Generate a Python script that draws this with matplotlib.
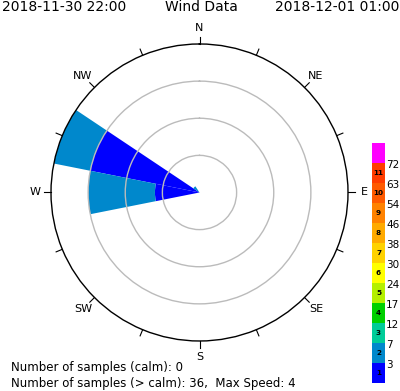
import numpy as np
import matplotlib
matplotlib.use("Agg")
import matplotlib.pyplot as plt

# 16 compass sectors, clockwise from north
directions = ['N', 'NNE', 'NE', 'ENE', 'E', 'ESE', 'SE', 'SSE',
              'S', 'SSW', 'SW', 'WSW', 'W', 'WNW', 'NW', 'NNW']
# sample counts per speed bin (bin 1 and bin 2 only have samples)
counts_bin1 = [0, 0, 0, 0, 0, 0, 0, 0, 0, 0, 0, 0, 6, 15, 0, 0]
counts_bin2 = [0, 0, 0, 0, 0, 0, 0, 0, 0, 0, 0, 0, 9, 5, 1, 0]

# speed scale legend
bin_numbers = ['1', '2', '3', '4', '5', '6', '7', '8', '9', '10', '11', '']
bin_limits = ['3', '7', '12', '17', '24', '30', '38', '46', '54', '63', '72']
bin_colors = ['#0000ff', '#0088cc', '#00cc99', '#00d000', '#b4f000', '#ffff00',
              '#ffd200', '#ffaa00', '#ff8200', '#ff5a00', '#ff3c00', '#ff00ff']

start_time = "2018-11-30 22:00"
end_time = "2018-12-01 01:00"
calm_samples = 0
max_speed = 4

fig = plt.figure(figsize=(4.0, 3.91), dpi=100)
ax = fig.add_axes([0.1275, 0.1279, 0.7425, 0.7596], projection='polar')
ax.set_theta_zero_location('N')
ax.set_theta_direction(-1)

theta = np.deg2rad(np.arange(16) * 22.5)
width = np.deg2rad(22.5)
b1 = np.array(counts_bin1)
b2 = np.array(counts_bin2)
rmax = (b1 + b2).max()

ax.bar(theta, b1, width=width, color=bin_colors[0], edgecolor='none', zorder=1)
ax.bar(theta, b2, width=width, bottom=b1, color=bin_colors[1], edgecolor='none', zorder=1)

ax.set_ylim(0, rmax)
ax.set_yticks(rmax * np.array([0.25, 0.5, 0.75]))
ax.set_yticklabels([])
ax.set_xticks([])
ax.yaxis.grid(True, color='#bbbbbb', linewidth=1, zorder=2)
ax.set_axisbelow(False)
ax.spines['polar'].set_linewidth(1.0)
ax.spines['polar'].set_color('black')

# outward ticks every sector
for t in theta:
    ax.plot([t, t], [rmax, rmax * 1.045], color='black', lw=0.8, clip_on=False)

labels8 = ['N', 'NE', 'E', 'SE', 'S', 'SW', 'W', 'NW']
for i, lab in enumerate(labels8):
    ax.text(np.deg2rad(i * 45), rmax * 1.11, lab, ha='center', va='center',
            fontsize=8, clip_on=False)

fig.text(0.005, 0.982, start_time, ha='left', va='center', fontsize=10)
fig.text(0.503, 0.982, "Wind Data", ha='center', va='center', fontsize=10)
fig.text(0.998, 0.982, end_time, ha='right', va='center', fontsize=10)

fig.text(0.027, 1 - 368 / 391, "Number of samples (calm): %d" % calm_samples,
         ha='left', va='center', fontsize=8.5)
fig.text(0.027, 1 - 383 / 391,
         "Number of samples (> calm): %d,  Max Speed: %d" % (int((b1 + b2).sum()), max_speed),
         ha='left', va='center', fontsize=8.5)

# colour legend
cax = fig.add_axes([0.93, 1 - 383 / 391, 0.0325, 240 / 391])
n = len(bin_colors)
cax.bar(np.zeros(n), np.ones(n), bottom=np.arange(n), width=1, color=bin_colors,
        edgecolor='none')
cax.set_xlim(-0.5, 0.5)
cax.set_ylim(0, n)
cax.axis('off')
for i, num in enumerate(bin_numbers):
    cax.text(0, i + 0.5, num, ha='center', va='center', fontsize=5.2,
             fontweight='bold', color='black')
for i, lab in enumerate(bin_limits):
    cax.text(0.6, i + 1 - 0.12, lab, ha='left', va='center', fontsize=7.5,
             clip_on=False)

fig.savefig('out.png', dpi=100)
